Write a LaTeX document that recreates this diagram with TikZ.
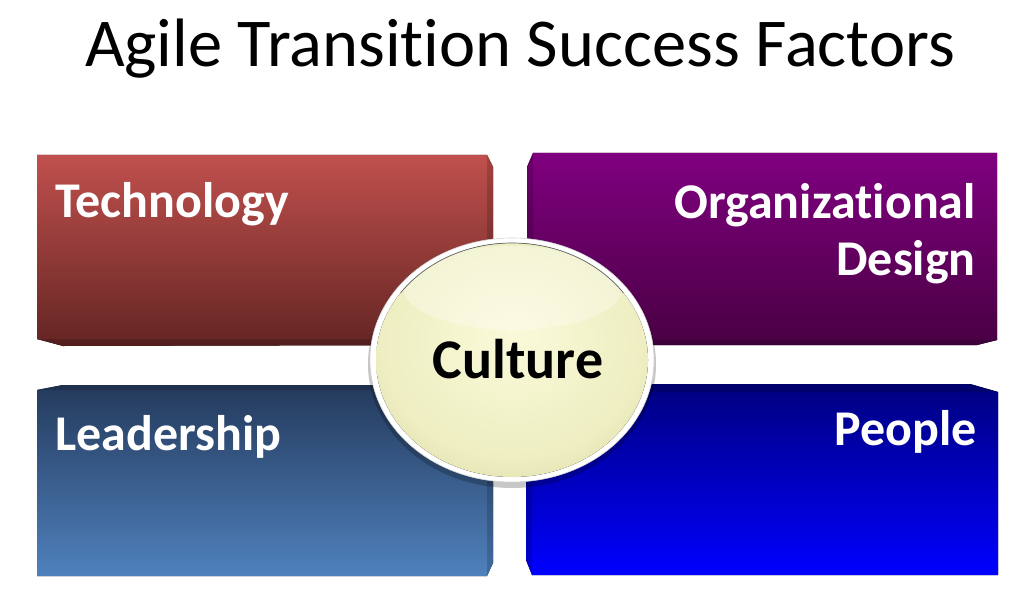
\documentclass[tikz,border=0pt]{standalone}
\usepackage{fontspec}
\setmainfont{Carlito}[Ligatures=NoCommon]

\definecolor{techtop}{RGB}{192,80,77}
\definecolor{techbot}{RGB}{99,37,35}
\definecolor{orgtop}{RGB}{128,0,128}
\definecolor{orgbot}{RGB}{72,0,66}
\definecolor{leadtop}{RGB}{36,58,92}
\definecolor{leadbot}{RGB}{79,129,189}
\definecolor{peoptop}{RGB}{0,0,128}
\definecolor{peopbot}{RGB}{0,0,255}
\definecolor{cultlight}{RGB}{250,250,218}
\definecolor{cultmid}{RGB}{238,238,194}
\definecolor{cultedge}{RGB}{208,208,156}
\definecolor{cultdark}{RGB}{170,170,120}

\pgfdeclareradialshading{culturefill}{\pgfpoint{0bp}{6bp}}{%
  color(0bp)=(cultlight); color(24bp)=(cultmid);
  color(40bp)=(cultedge); color(50bp)=(cultdark)}

\tikzset{
  boxlabel/.style={text=white, inner sep=0pt,
    font=\fontsize{50}{57}\selectfont\bfseries},
  sideface/.style={fill=black, fill opacity=0.16},
}

\begin{document}
\begin{tikzpicture}[x=1pt,y=-1pt]

	\useasboundingbox (0,0) rectangle (1024,596);

	% ---- coordinates

	\coordinate (T1) at (37,155);
	\coordinate (T2) at (487,155);
	\coordinate (T3) at (493,167);
	\coordinate (T4) at (493,345);
	\coordinate (T5) at (63,346);
	\coordinate (T6) at (37,339);

	\coordinate (O1) at (533,153);
	\coordinate (O2) at (997,153);
	\coordinate (O3) at (997,340);
	\coordinate (O4) at (977,345);
	\coordinate (O5) at (527,345);
	\coordinate (O6) at (527,167);

	\coordinate (L1) at (37,390);
	\coordinate (L2) at (63,385);
	\coordinate (L3) at (493,385);
	\coordinate (L4) at (493,563);
	\coordinate (L5) at (487,576);
	\coordinate (L6) at (37,576);

	\coordinate (P1) at (526,384);
	\coordinate (P2) at (970,384);
	\coordinate (P3) at (998,392);
	\coordinate (P4) at (998,575);
	\coordinate (P5) at (532,575);
	\coordinate (P6) at (526,560);

	\coordinate (C) at (512,360);

	% ---- boxes

	\fill[top color=techtop, bottom color=techbot] (T1) \foreach \i in {2,...,6} { -- (T\i) } -- cycle;
	\fill[top color=orgtop, bottom color=orgbot] (O1) \foreach \i in {2,...,6} { -- (O\i) } -- cycle;
	\fill[top color=leadtop, bottom color=leadbot] (L1) \foreach \i in {2,...,6} { -- (L\i) } -- cycle;
	\fill[top color=peoptop, bottom color=peopbot] (P1) \foreach \i in {2,...,6} { -- (P\i) } -- cycle;

	% ---- side faces

	\fill[sideface] (T2) -- (T3) -- (T4) -- (487,339) -- cycle;
	\fill[sideface] (T6) -- (487,339) -- (T4) -- (T5) -- cycle;
	\fill[sideface] (O6) -- (O1) -- (533,340) -- (O5) -- cycle;
	\fill[sideface] (533,340) -- (O3) -- (O4) -- (O5) -- cycle;
	\fill[sideface] (L1) -- (L2) -- (L3) -- (487,390) -- cycle;
	\fill[sideface] (487,390) -- (L3) -- (L4) -- (L5) -- cycle;
	\fill[sideface] (P1) -- (P2) -- (P3) -- (532,392) -- cycle;
	\fill[sideface] (P1) -- (532,392) -- (P5) -- (P6) -- cycle;

	% ---- culture ball

	\fill[black, opacity=0.22] (512,364) ellipse [x radius=144, y radius=124];
	\fill[white] (C) ellipse [x radius=142, y radius=122];
	\draw[gray!35, line width=0.6pt] (C) ellipse [x radius=142, y radius=122];
	\fill[shading=culturefill] (C) ellipse [x radius=136, y radius=117];
	\begin{scope}
		\clip (C) ellipse [x radius=136, y radius=117];
		\fill[white, fill opacity=0.3] (513,288) ellipse [x radius=110, y radius=42];
	\end{scope}
	\draw[black!60, line width=0.7pt] (C) ++(215:136 and 117) arc [start angle=215, end angle=325, x radius=136, y radius=117];

	% ---- labels

	\node[font=\fontsize{68.5}{82}\selectfont, inner sep=0pt, anchor=base] (title) at (520,67) {Agile Transition Success Factors};

	\node[boxlabel, anchor=base west] (tech) at (55,217) {Technology};
	\node[boxlabel, anchor=base east, align=right] (org) at (976,275) {Organizational\\Design};
	\node[boxlabel, anchor=base west] (lead) at (55,450) {Leadership};
	\node[boxlabel, anchor=base east] (people) at (977,445) {People};
	\node[boxlabel, text=black, font=\fontsize{56}{60}\selectfont\bfseries, anchor=base] (culture) at (518,378) {Culture};

\end{tikzpicture}
\end{document}
